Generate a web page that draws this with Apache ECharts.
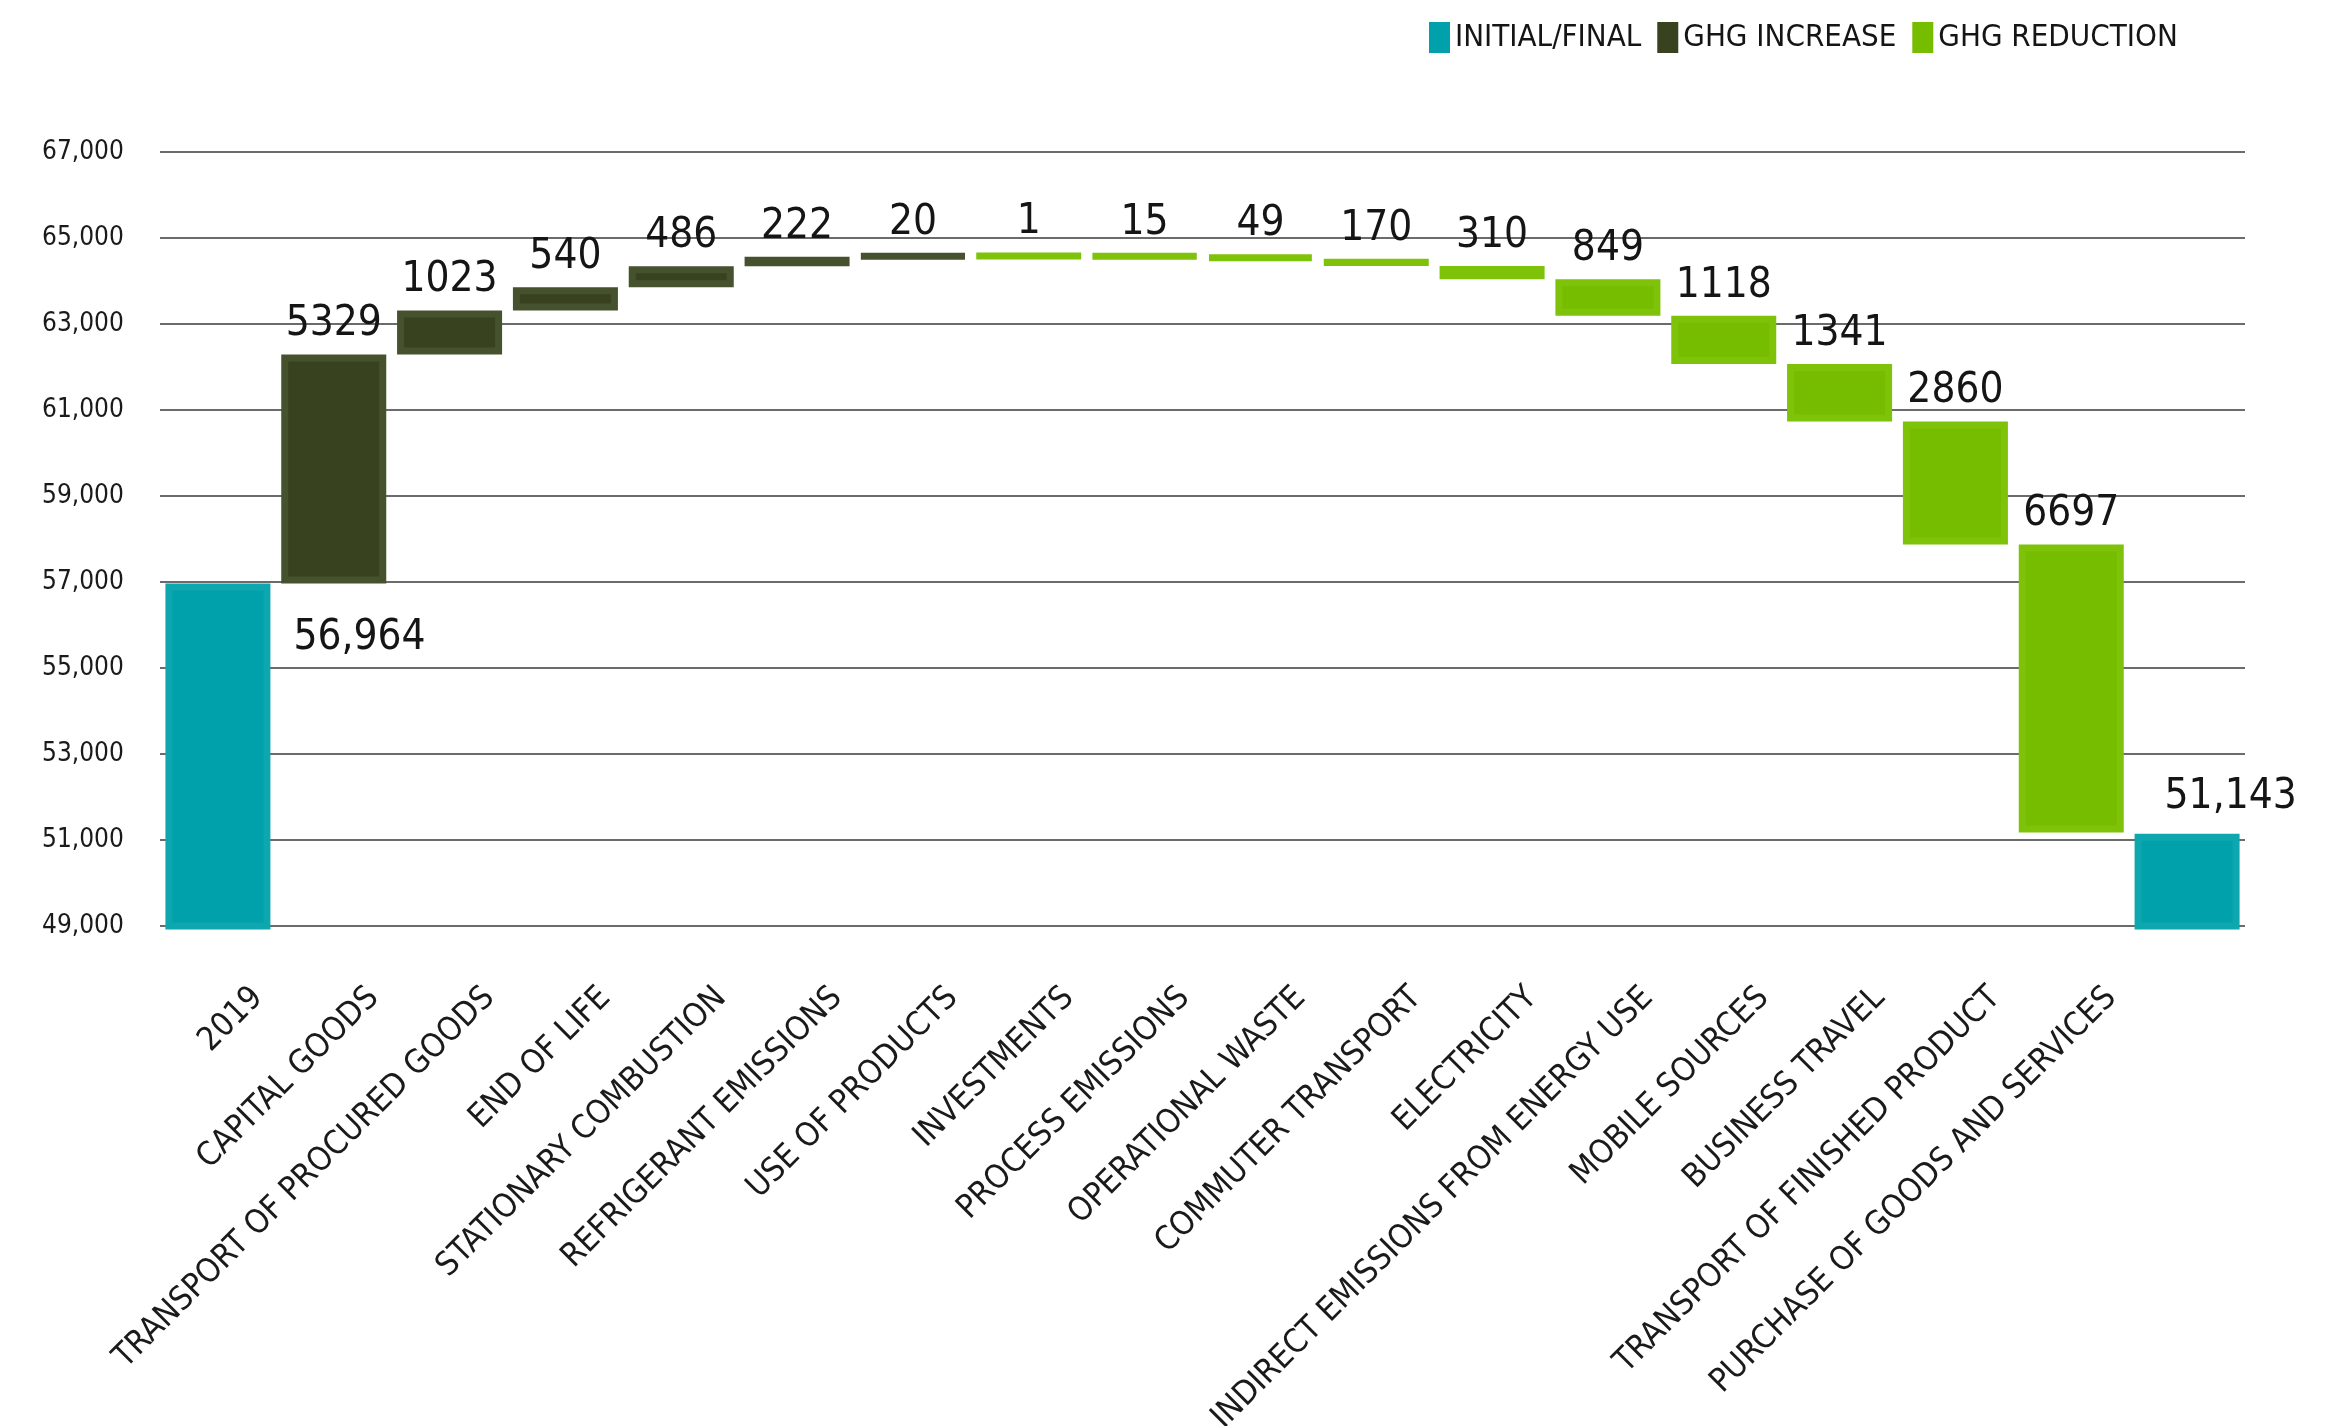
<!DOCTYPE html>
<html>
<head>
<meta charset="utf-8">
<script src="https://cdn.jsdelivr.net/npm/echarts@6/dist/echarts.min.js"></script>
<style>
  html, body { margin: 0; padding: 0; background: #ffffff; }
  #chart { width: 2339px; height: 1426px; }
</style>
</head>
<body>
<div id="chart"></div>
<script>
// Emission categories, first bar is the 2019 baseline, last bar is the final total
const categories = [
  '2019',
  'CAPITAL GOODS',
  'TRANSPORT OF PROCURED GOODS',
  'END OF LIFE',
  'STATIONARY COMBUSTION',
  'REFRIGERANT EMISSIONS',
  'USE OF PRODUCTS',
  'INVESTMENTS',
  'PROCESS EMISSIONS',
  'OPERATIONAL WASTE',
  'COMMUTER TRANSPORT',
  'ELECTRICITY',
  'INDIRECT EMISSIONS FROM ENERGY USE',
  'MOBILE SOURCES',
  'BUSINESS TRAVEL',
  'TRANSPORT OF FINISHED PRODUCT',
  'PURCHASE OF GOODS AND SERVICES',
  ''
];

const initialTotal = 56964;
const finalTotal = 51143;

// Change per category (between the two totals); positive = increase, negative = reduction
const changes = [5329, 1023, 540, 486, 222, 20, -1, -15, -49, -170, -310, -849, -1118, -1341, -2860, -6697];

const legendNames = ['INITIAL/FINAL', 'GHG INCREASE', 'GHG REDUCTION'];

const yMin = 49000;
const yMax = 67000;
const yStep = 2000;

const COLORS = {
  total: '#00a1aa',
  totalEdge: '#0ea7af',
  increase: '#38421e',
  increaseEdge: '#46512e',
  reduction: '#76bd00',
  reductionEdge: '#7fc20a'
};

const FONT = '"DejaVu Sans Condensed", "Liberation Sans Narrow", "DejaVu Sans", sans-serif';

// Build the invisible stack base plus the visible series
const baseData = [];
const incData = [];
const redData = [];
const totalData = [];
let level = initialTotal;
const last = categories.length - 1;
for (let i = 0; i < categories.length; i++) {
  if (i === 0 || i === last) {
    baseData.push('-');
    incData.push('-');
    redData.push('-');
    totalData.push(i === 0 ? initialTotal : finalTotal);
    continue;
  }
  const d = changes[i - 1];
  if (d >= 0) {
    baseData.push(level);
    incData.push(d);
    redData.push('-');
    level += d;
  } else {
    level += d;
    baseData.push(level);
    redData.push(-d);
    incData.push('-');
  }
  totalData.push('-');
}

const totalItems = totalData.map((v, i) => {
  if (v === '-') return v;
  if (i === 0) {
    return { value: v, label: { position: [128, 34], align: 'left', verticalAlign: 'top' } };
  }
  return { value: v, label: { position: [30, -16], align: 'left', verticalAlign: 'bottom' } };
});

const BAR_W = 105;
const valueLabel = {
  show: true,
  position: 'top',
  distance: 9,
  fontFamily: FONT,
  fontSize: 42,
  color: '#151515',
  formatter: p => String(p.value)
};

const chart = echarts.init(document.getElementById('chart'), null, { renderer: 'canvas' });

chart.setOption({
  animation: false,
  backgroundColor: '#ffffff',
  textStyle: { fontFamily: FONT },
  grid: {
    left: 160,
    right: 94,
    top: 152,
    bottom: 500,
    containLabel: false,
    outerBoundsMode: 'none'
  },
  legend: {
    data: legendNames,
    left: 1424,
    top: 17,
    icon: 'rect',
    itemWidth: 21,
    itemHeight: 31,
    itemGap: 16,
    itemStyle: { borderWidth: 0 },
    textStyle: { fontFamily: FONT, fontSize: 31, color: '#151515' }
  },
  xAxis: {
    type: 'category',
    data: categories,
    axisLine: { show: false },
    axisTick: { show: false },
    splitLine: { show: false },
    axisLabel: {
      interval: 0,
      rotate: 45,
      margin: 27,
      verticalAlign: 'top',
      padding: [40, 0, 0, 0],
      fontFamily: FONT,
      fontSize: 33,
      color: '#1a1a1a'
    }
  },
  yAxis: {
    type: 'value',
    min: yMin,
    max: yMax,
    interval: yStep,
    axisLine: { show: false },
    axisTick: { show: false },
    splitLine: { lineStyle: { color: '#3a3a3a', width: 1.6 } },
    axisLabel: {
      align: 'left',
      margin: 118,
      fontFamily: FONT,
      fontSize: 26,
      color: '#1a1a1a',
      formatter: v => v.toLocaleString('en-US')
    }
  },
  series: [
    {
      name: 'base',
      type: 'bar',
      stack: 'wf',
      barWidth: BAR_W,
      silent: true,
      itemStyle: { color: 'transparent', borderWidth: 0 },
      emphasis: { disabled: true },
      data: baseData
    },
    {
      name: legendNames[0],
      type: 'bar',
      stack: 'wf',
      barWidth: BAR_W,
      itemStyle: { color: COLORS.total, borderColor: COLORS.totalEdge, borderWidth: 7 },
      label: Object.assign({}, valueLabel, { formatter: p => Number(p.value).toLocaleString('en-US') }),
      data: totalItems
    },
    {
      name: legendNames[1],
      type: 'bar',
      stack: 'wf',
      barWidth: BAR_W,
      itemStyle: { color: COLORS.increase, borderColor: COLORS.increaseEdge, borderWidth: 7 },
      label: valueLabel,
      data: incData
    },
    {
      name: legendNames[2],
      type: 'bar',
      stack: 'wf',
      barWidth: BAR_W,
      itemStyle: { color: COLORS.reduction, borderColor: COLORS.reductionEdge, borderWidth: 7 },
      label: valueLabel,
      data: redData
    }
  ]
});
</script>
</body>
</html>
